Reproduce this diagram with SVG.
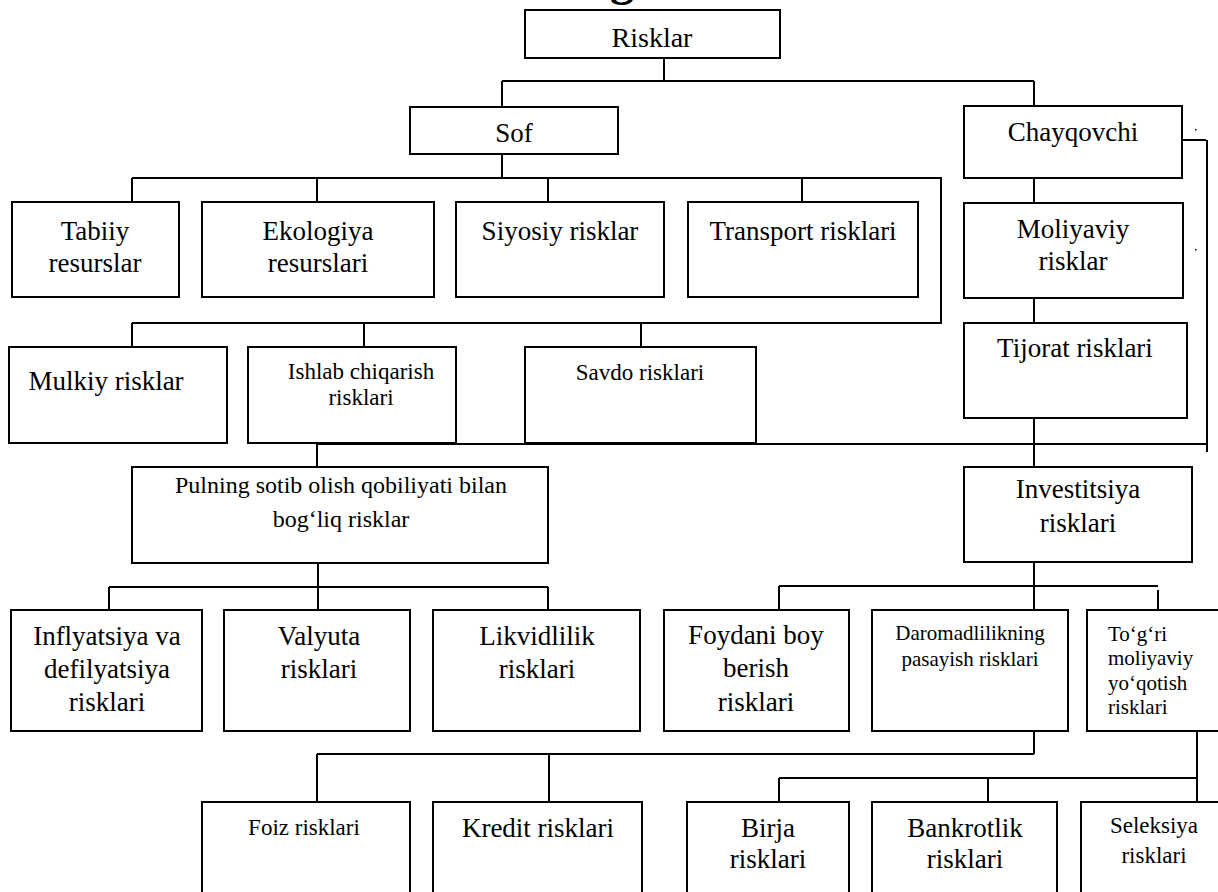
<svg xmlns="http://www.w3.org/2000/svg" width="1218" height="892" viewBox="0 0 1218 892">
<style>
rect.b{fill:#fff;stroke:#000;stroke-width:2}
text{font-family:"Liberation Serif","Times New Roman",serif;fill:#000;text-anchor:middle;font-size:27px}
text.s21{font-size:21px}
text.s23{font-size:23px}
text.s24{font-size:24px}
.c path{fill:none;stroke:#000;stroke-width:2}
</style>
<rect width="1218" height="892" fill="#fff"/>
<text x="622" y="-5" style="font-size:48px;font-weight:bold">g</text>
<g id="n-mulkiy"><rect class="b" x="9" y="347" width="218" height="96"/><text x="106" y="390">Mulkiy risklar</text></g>
<g id="n-ishlab"><rect class="b" x="248" y="347" width="208" height="96"/><text class="s23" x="361" y="379">Ishlab chiqarish</text><text class="s23" x="361" y="405">risklari</text></g>
<g id="n-savdo"><rect class="b" x="525" y="347" width="231" height="96"/><text class="s23" x="640" y="380">Savdo risklari</text></g>
<g class="c" id="connectors">
<path d="M664,58 V81 M502,81 H1034 M502,81 V107 M1034,81 V106"/>
<path d="M502,154 V178 M132,178 H941 M132,178 V202 M317,178 V202 M548,178 V202 M802,178 V202 M941,177 V323 M132,323 H942 M132,323 V347 M364,323 V347 M641,323 V347"/>
<path d="M1034,178 V203 M1034,298 V323 M1034,418 V467"/>
<path d="M1182,140 H1206 M1207,140 V452 M317,444 H1207 M317,444 V467"/>
<path d="M318,563 V587 M109,587 H548 M109,587 V610 M318,587 V610 M548,587 V610"/>
<path d="M1034,562 V610 M779,586 H1158 M779,586 V610 M1158,590 V623"/>
<path d="M1034,731 V754 M317,754 H1034 M317,754 V802 M549,754 V802"/>
<path d="M1197,731 V802 M779,778 H1197 M779,778 V802 M988,778 V802"/>
</g>
<g id="dots"><rect x="1195" y="129" width="1.5" height="1.5" fill="#000"/><rect x="1195" y="249" width="1.5" height="1.5" fill="#000"/></g>
<g id="n-risklar"><rect class="b" x="525" y="10" width="255" height="48"/><text x="652" y="47" style="font-size:28px">Risklar</text></g>
<g id="n-sof"><rect class="b" x="410" y="107" width="208" height="47"/><text x="514" y="142">Sof</text></g>
<g id="n-chayqovchi"><rect class="b" x="964" y="106" width="218" height="72"/><text x="1073" y="141">Chayqovchi</text></g>
<g id="n-tabiiy"><rect class="b" x="12" y="202" width="167" height="95"/><text x="95" y="240">Tabiiy</text><text x="95" y="272">resurslar</text></g>
<g id="n-ekologiya"><rect class="b" x="202" y="202" width="232" height="95"/><text x="318" y="240">Ekologiya</text><text x="318" y="272">resurslari</text></g>
<g id="n-siyosiy"><rect class="b" x="456" y="202" width="208" height="95"/><text x="560" y="240">Siyosiy risklar</text></g>
<g id="n-transport"><rect class="b" x="688" y="202" width="230" height="95"/><text x="803" y="240">Transport risklari</text></g>
<g id="n-moliyaviy"><rect class="b" x="964" y="203" width="219" height="95"/><text x="1073" y="238">Moliyaviy</text><text x="1073" y="270">risklar</text></g>
<g id="n-tijorat"><rect class="b" x="964" y="323" width="223" height="95"/><text x="1075" y="357">Tijorat risklari</text></g>
<g id="n-pulning"><rect class="b" x="132" y="467" width="416" height="96"/><text class="s24" x="341" y="493">Pulning sotib olish qobiliyati bilan</text><text class="s24" x="341" y="527">bog‘liq risklar</text></g>
<g id="n-investitsiya"><rect class="b" x="964" y="467" width="228" height="95"/><text x="1078" y="498">Investitsiya</text><text x="1078" y="532">risklari</text></g>
<g id="n-inflyatsiya"><rect class="b" x="11" y="610" width="191" height="121"/><text x="107" y="645">Inflyatsiya va</text><text x="107" y="678">defilyatsiya</text><text x="107" y="711">risklari</text></g>
<g id="n-valyuta"><rect class="b" x="224" y="610" width="186" height="121"/><text x="319" y="645">Valyuta</text><text x="319" y="678">risklari</text></g>
<g id="n-likvidlilik"><rect class="b" x="433" y="610" width="207" height="121"/><text x="537" y="645">Likvidlilik</text><text x="537" y="678">risklari</text></g>
<g id="n-foydani"><rect class="b" x="664" y="610" width="185" height="121"/><text x="756" y="644">Foydani boy</text><text x="756" y="677">berish</text><text x="756" y="711">risklari</text></g>
<g id="n-daromad"><rect class="b" x="872" y="610" width="196" height="121"/><text class="s21" x="970" y="640">Daromadlilikning</text><text class="s21" x="970" y="666">pasayish risklari</text></g>
<g id="n-togri"><rect class="b" x="1087" y="610" width="140" height="121"/><text class="s21" x="1108" y="641" style="text-anchor:start">To‘g‘ri</text><text class="s21" x="1108" y="665" style="text-anchor:start">moliyaviy</text><text class="s21" x="1108" y="690" style="text-anchor:start">yo‘qotish</text><text class="s21" x="1108" y="714" style="text-anchor:start">risklari</text></g>
<g id="n-foiz"><rect class="b" x="202" y="802" width="208" height="100"/><text class="s23" x="304" y="835">Foiz risklari</text></g>
<g id="n-kredit"><rect class="b" x="433" y="802" width="209" height="100"/><text x="538" y="837">Kredit risklari</text></g>
<g id="n-birja"><rect class="b" x="687" y="802" width="162" height="100"/><text x="768" y="837">Birja</text><text x="768" y="868">risklari</text></g>
<g id="n-bankrotlik"><rect class="b" x="872" y="802" width="185" height="100"/><text x="965" y="837">Bankrotlik</text><text x="965" y="868">risklari</text></g>
<g id="n-seleksiya"><rect class="b" x="1081" y="802" width="150" height="100"/><text class="s23" x="1154" y="833">Seleksiya</text><text class="s23" x="1154" y="863">risklari</text></g>
</svg>
